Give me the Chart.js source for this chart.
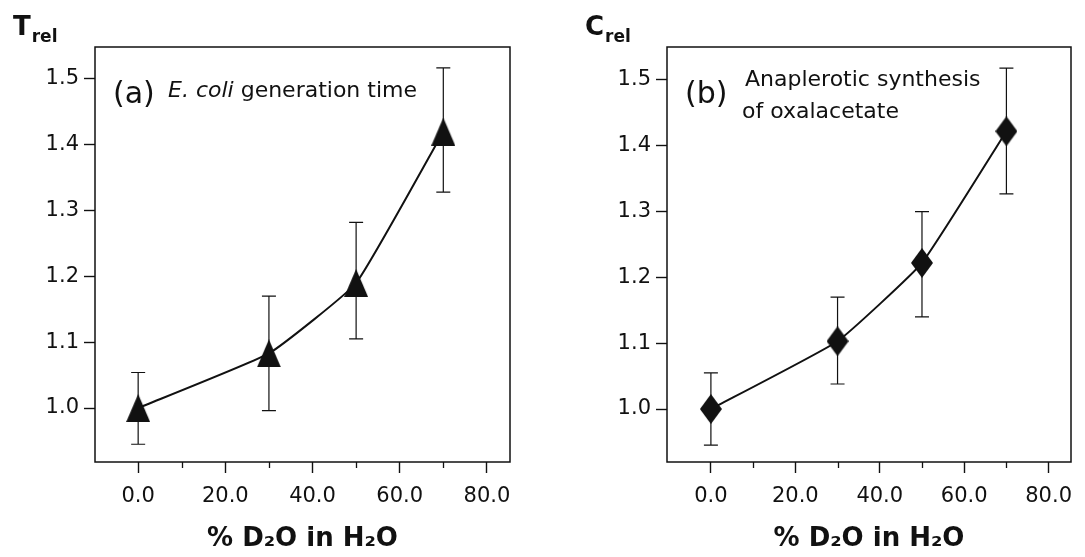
<!DOCTYPE html>
<html>
<head>
<meta charset="utf-8">
<script src="https://cdn.jsdelivr.net/npm/chart.js@4/dist/chart.umd.min.js"></script>
<style>
  html, body { margin: 0; padding: 0; background: #fff; }
  #wrap { position: relative; width: 1085px; height: 557px; }
  .panel { position: absolute; top: 0; height: 557px; }
</style>
</head>
<body>
<div id="wrap">
  <div class="panel" style="left:0;width:545px"><canvas id="chartA"></canvas></div>
  <div class="panel" style="left:545px;width:540px"><canvas id="chartB"></canvas></div>
</div>
<script>
// % D2O in the medium
const d2oPercent = [0, 30, 50, 70];

// (a) relative E. coli generation time
const genTime   = [1.000, 1.083, 1.190, 1.420];
const genTimeLo = [0.945, 0.996, 1.105, 1.328];
const genTimeHi = [1.054, 1.170, 1.282, 1.517];

// (b) relative anaplerotic synthesis of oxalacetate
const oaaSynth   = [1.000, 1.103, 1.222, 1.422];
const oaaSynthLo = [0.945, 1.038, 1.140, 1.327];
const oaaSynthHi = [1.055, 1.170, 1.300, 1.518];

const xTickValues = [0, 20, 40, 60, 80];
const xMinorValues = [10, 30, 50, 70];
const yTickValues = [1.0, 1.1, 1.2, 1.3, 1.4, 1.5];
const xTitle = '% D\u2082O in H\u2082O';

const FONT = "'DejaVu Sans', sans-serif";
const INK = '#111';

function markerCanvas(shape) {
  const c = document.createElement('canvas');
  const w = shape === 'triangle' ? 24 : 22;
  const h = shape === 'triangle' ? 28 : 30;
  c.width = w; c.height = h;
  const g = c.getContext('2d');
  g.fillStyle = INK;
  g.beginPath();
  if (shape === 'triangle') {
    g.moveTo(w / 2, 0); g.lineTo(w, h); g.lineTo(0, h);
  } else {
    g.moveTo(w / 2, 0); g.lineTo(w, h / 2); g.lineTo(w / 2, h); g.lineTo(0, h / 2);
  }
  g.closePath();
  g.fill();
  return c;
}

// error bars, box frame, minor x ticks, labels
const panelDecor = {
  id: 'panelDecor',
  beforeDatasetsDraw(chart, args, opts) {
    const { ctx, scales: { x, y } } = chart;
    ctx.save();
    ctx.strokeStyle = INK;
    ctx.lineWidth = 1.2;
    opts.lo.forEach((lo, i) => {
      const px = x.getPixelForValue(d2oPercent[i]);
      const top = y.getPixelForValue(opts.hi[i]);
      const bot = y.getPixelForValue(lo);
      ctx.beginPath();
      ctx.moveTo(px, top); ctx.lineTo(px, bot);
      ctx.moveTo(px - 7, top); ctx.lineTo(px + 7, top);
      ctx.moveTo(px - 7, bot); ctx.lineTo(px + 7, bot);
      ctx.stroke();
    });
    ctx.restore();
  },
  afterDraw(chart, args, opts) {
    const { ctx, chartArea: a, scales: { x } } = chart;
    ctx.save();
    ctx.strokeStyle = INK;
    ctx.lineWidth = 1.5;
    ctx.strokeRect(a.left, a.top, a.right - a.left, a.bottom - a.top);
    ctx.lineWidth = 1.3;
    xMinorValues.forEach(v => {
      const px = Math.round(x.getPixelForValue(v)) + 0.5;
      ctx.beginPath();
      ctx.moveTo(px, a.bottom); ctx.lineTo(px, a.bottom + 6);
      ctx.stroke();
    });

    ctx.fillStyle = INK;
    ctx.textBaseline = 'alphabetic';
    // y label with subscript
    const lx = a.left - 82;
    ctx.font = 'bold 26px ' + FONT;
    ctx.fillText(opts.yLetter, lx, 35);
    const lw = ctx.measureText(opts.yLetter).width;
    ctx.font = 'bold 17px ' + FONT;
    ctx.fillText('rel', lx + lw + 1, 42);

    // panel tag
    ctx.font = '30px ' + FONT;
    ctx.fillText(opts.tag, a.left + 18, 103);
    opts.note(ctx, a);
    ctx.restore();
  }
};

function makePanel(id, data, lo, hi, marker, xMin, yMin, yMax, padRight, leftW, yLetter, tag, note) {
  return new Chart(document.getElementById(id), {
    type: 'scatter',
    data: {
      datasets: [{
        data: d2oPercent.map((v, i) => ({ x: v, y: data[i] })),
        showLine: true,
        borderColor: INK,
        borderWidth: 2,
        tension: 0.12,
        pointStyle: marker,
        pointRadius: 12,
        pointHoverRadius: 12,
        backgroundColor: INK
      }]
    },
    options: {
      responsive: true,
      maintainAspectRatio: false,
      animation: false,
      events: [],
      layout: { padding: { top: 47, right: padRight, left: 0, bottom: 0 } },
      plugins: {
        legend: { display: false },
        tooltip: { enabled: false },
        panelDecor: { lo, hi, yLetter, tag, note }
      },
      scales: {
        x: {
          type: 'linear',
          min: xMin, max: 85.3,
          afterBuildTicks: s => { s.ticks = xTickValues.map(v => ({ value: v })); },
          afterFit: s => { s.height = 95; },
          grid: { drawOnChartArea: false, tickLength: 11, tickColor: INK, tickWidth: 1.4 },
          border: { display: false },
          ticks: {
            color: INK, padding: 11, maxRotation: 0,
            font: { family: FONT, size: 21 },
            callback: v => v.toFixed(1)
          },
          title: {
            display: true, text: xTitle, color: INK,
            font: { family: FONT, size: 26, weight: 'bold' },
            padding: { top: 0, bottom: 2 }
          }
        },
        y: {
          type: 'linear',
          min: yMin, max: yMax,
          afterBuildTicks: s => { s.ticks = yTickValues.map(v => ({ value: v })); },
          afterFit: s => { s.width = leftW; },
          grid: { drawOnChartArea: false, tickLength: 11, tickColor: INK, tickWidth: 1.4 },
          border: { display: false },
          ticks: {
            color: INK, padding: 5,
            font: { family: FONT, size: 21 },
            callback: v => v.toFixed(1)
          }
        }
      }
    },
    plugins: [panelDecor]
  });
}

makePanel('chartA', genTime, genTimeLo, genTimeHi, markerCanvas('triangle'),
  -9.9, 0.918, 1.5486, 35, 95, 'T', '(a)',
  (ctx, a) => {
    ctx.font = 'italic 22px ' + FONT;
    const x0 = a.left + 73;
    ctx.fillText('E. coli', x0, 97);
    const w = ctx.measureText('E. coli ').width;
    ctx.font = '22px ' + FONT;
    ctx.fillText('generation time', x0 + w, 97);
  });

makePanel('chartB', oaaSynth, oaaSynthLo, oaaSynthHi, markerCanvas('diamond'),
  -10.4, 0.9195, 1.55, 5, 122, 'C', '(b)',
  (ctx, a) => {
    ctx.font = '22px ' + FONT;
    ctx.fillText('Anaplerotic synthesis', a.left + 78, 86);
    ctx.fillText('of oxalacetate', a.left + 75, 118);
  });
</script>
</body>
</html>
